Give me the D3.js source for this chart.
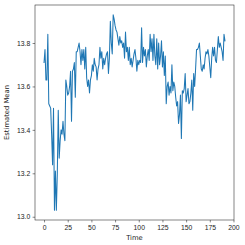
<!DOCTYPE html>
<html>
<head>
<meta charset="utf-8">
<script src="https://cdn.jsdelivr.net/npm/d3@7"></script>
<style>
body { margin: 0; background: #fff; }
svg { display: block; font-family: "DejaVu Sans", sans-serif; }
</style>
</head>
<body>
<svg id="svg" width="245" height="245"></svg>
<script>
// estimated mean per time step
var meanA = [13.71,13.77,13.63,13.63,13.84,13.52,13.51,13.50,13.38,13.24,
13.50,13.03,13.21,13.03,13.20,13.49,13.27,13.35,13.40,13.38,
13.44,13.38,13.35,13.63,13.60,13.56,13.57,13.60,13.67,13.44,
13.67,13.68,13.71,13.55,13.76,13.76,13.78,13.80,13.76,13.70,
13.77,13.72,13.77,13.68,13.78,13.64,13.60,13.63,13.57,13.63,
13.65,13.70,13.67,13.73,13.70,13.69,13.63,13.68,13.70,13.78,
13.73,13.76,13.68,13.73,13.70,13.73,13.75,13.76,13.66,13.73,
13.90,13.80,13.75,13.93,13.91,13.88,13.86,13.85,13.82,13.79,
13.83,13.80,13.81,13.78,13.80,13.73,13.85,13.76,13.78,13.72,
13.78,13.70,13.73,13.69,13.72,13.75,13.77,13.73,13.67,13.72];
var meanB = [13.70,13.72,13.71,13.87,13.71,13.78,13.74,13.77,13.69,13.74,
13.77,13.72,13.84,13.76,13.82,13.72,13.84,13.74,13.70,13.82,
13.68,13.80,13.70,13.74,13.81,13.69,13.76,13.65,13.74,13.52,
13.60,13.62,13.56,13.60,13.57,13.70,13.58,13.62,13.60,13.55,
13.51,13.53,13.43,13.47,13.56,13.36,13.58,13.57,13.59,13.66,
13.53,13.56,13.59,13.52,13.53,13.57,13.63,13.49,13.66,13.60,
13.68,13.77,13.77,13.78,13.80,13.74,13.68,13.67,13.70,13.68,
13.73,13.76,13.75,13.77,13.74,13.69,13.64,13.73,13.78,13.74,
13.78,13.72,13.71,13.77,13.83,13.78,13.80,13.78,13.76,13.72,
13.84,13.81];
var values = meanA.concat(meanB);
var xTicks = [0,25,50,75,100,125,150,175,200];
var yTicks = [13.0,13.2,13.4,13.6,13.8];

var svg = d3.select("#svg");
var padL = 35, padR = 234, padT = 5, padB = 220;

var x = d3.scaleLinear().domain([-9.55, 200.55]).range([padL, padR]);
var y = d3.scaleLinear().domain([12.985, 13.975]).range([padB, padT]);

var line = d3.line()
 .x(function(d, i){ return x(i); })
 .y(function(d){ return y(d); });

svg.append("path")
 .datum(values)
 .attr("d", line)
 .style("fill", "none")
 .style("stroke", "#1f77b4")
 .style("stroke-width", 1.05)
 .style("stroke-linejoin", "round")
 .style("stroke-linecap", "square");

var xAxis = svg.append("g")
 .attr("transform", "translate(0," + padB + ")")
 .call(d3.axisBottom(x).tickValues(xTicks).tickSize(2.4).tickPadding(2.4).tickFormat(d3.format("d")));
var yAxis = svg.append("g")
 .attr("transform", "translate(" + padL + ",0)")
 .call(d3.axisLeft(y).tickValues(yTicks).tickSize(2.4).tickPadding(2.4).tickFormat(d3.format(".1f")));

[xAxis, yAxis].forEach(function(g){
 g.select(".domain").remove();
 g.selectAll("line").style("stroke", "#222").style("stroke-width", 0.55);
 g.selectAll("text").style("font-size", "6.8px").style("fill", "#222").attr("font-family", null);
});

svg.append("rect")
 .attr("x", padL).attr("y", padT)
 .attr("width", padR - padL).attr("height", padB - padT)
 .style("fill", "none")
 .style("stroke", "#222")
 .style("stroke-width", 0.55);

svg.append("text")
 .attr("x", (padL + padR) / 2).attr("y", 240)
 .attr("text-anchor", "middle")
 .style("font-size", "6.8px").style("fill", "#222")
 .text("Time");

svg.append("text")
 .attr("transform", "translate(9," + (padT + padB) / 2 + ") rotate(-90)")
 .attr("text-anchor", "middle")
 .style("font-size", "6.8px").style("fill", "#222")
 .text("Estimated Mean");
</script>
</body>
</html>
